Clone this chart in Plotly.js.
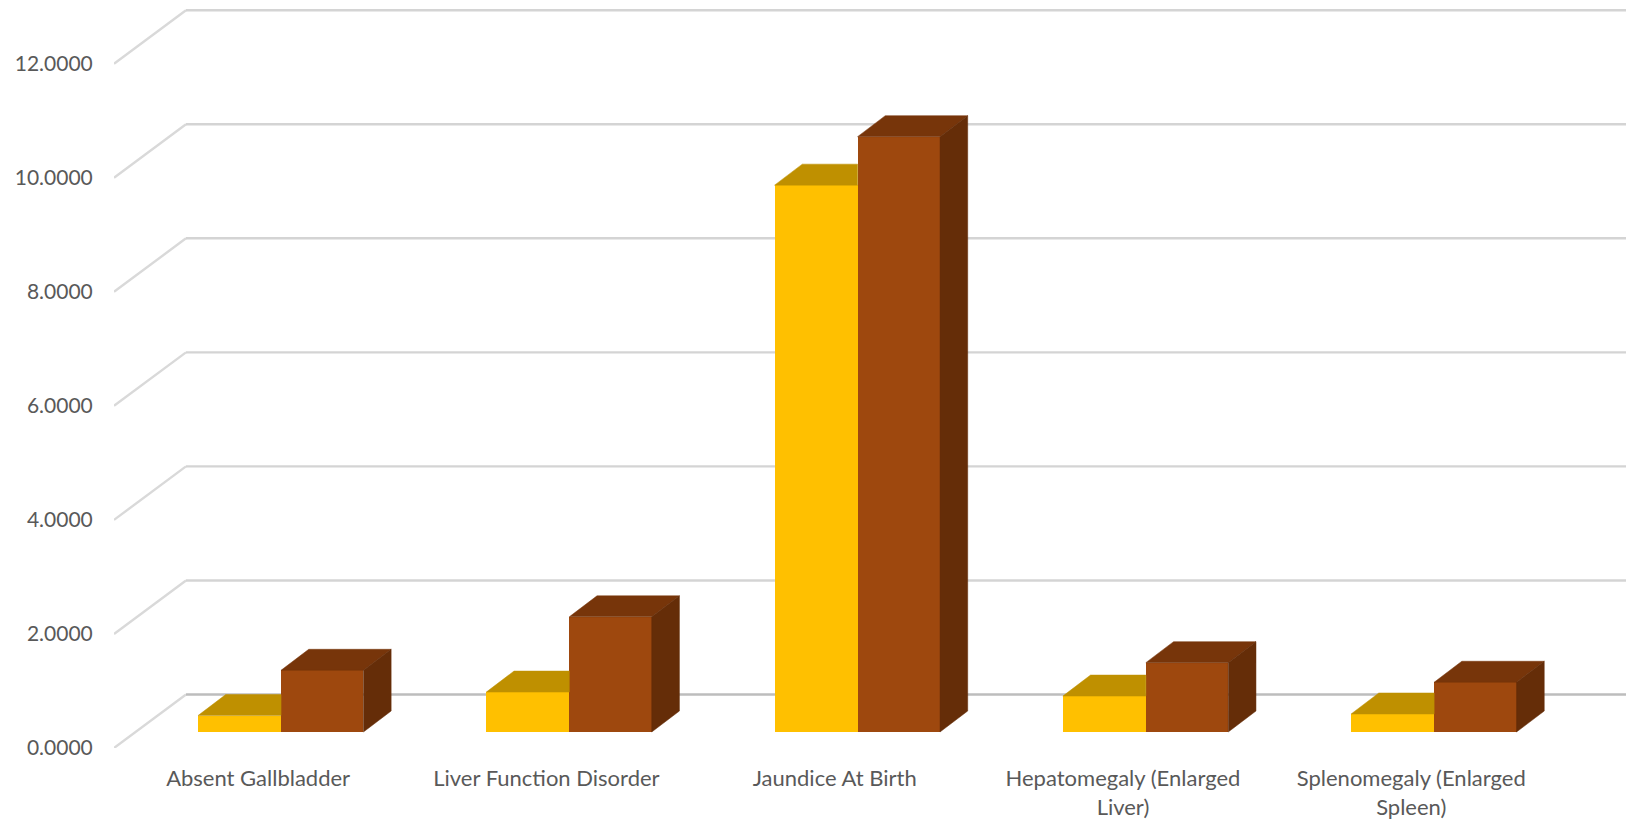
<!DOCTYPE html>
<html>
<head>
<meta charset="utf-8">
<script src="https://cdn.plot.ly/plotly-3.0.1.min.js"></script>
<style>html,body{margin:0;padding:0;background:#fff}#chart{width:1626px;height:819px}</style>
</head>
<body>
<div id="chart"></div>
<script>
// Data
const categories = ["Absent Gallbladder", "Liver Function Disorder", "Jaundice At Birth", "Hepatomegaly (Enlarged Liver)", "Splenomegaly (Enlarged Spleen)"];
const tickLabels = ["Absent Gallbladder", "Liver Function Disorder", "Jaundice At Birth", "Hepatomegaly (Enlarged<br>Liver)", "Splenomegaly (Enlarged<br>Spleen)"];
const seriesA = [0.288, 0.70, 9.59, 0.63, 0.316];
const seriesB = [1.082, 2.02, 10.44, 1.216, 0.872];
const valueTicks = [0, 2, 4, 6, 8, 10, 12];

// Oblique-projection constants, in axis units
const pxX = 288.25, pxY = 57;
const wallDX = 72 / pxX, wallDY = 53.5 / pxY;      // depth of the side wall
const barDX = 27.7 / pxX, barDY = 21 / pxY;        // depth of a bar
const baseY = 16 / pxY;                            // bars stand forward of the wall's foot
const barW = 82.4 / pxX;
const offA = (198 - 258.1) / pxX, offB = offA + 83 / pxX;
const xIdx = categories.map((_, i) => i);
const xMin = -0.5, xMax = 4.745, yMax = 747.7 / pxY;

const poly = (xs, ys, color) => ({
  type: 'scatter', mode: 'lines', x: xs, y: ys, fill: 'toself', fillcolor: color,
  line: {width: 0.5, color: color}, hoverinfo: 'skip', showlegend: false
});

const traces = [];
traces.push({type: 'bar', x: xIdx, y: seriesA, base: baseY, width: 83 / pxX, offset: offA,
  marker: {color: '#FFC000', line: {width: 0}}, name: 'A', showlegend: false});
traces.push({type: 'bar', x: xIdx, y: seriesB, base: baseY, width: barW, offset: offB,
  marker: {color: '#9E480E', line: {width: 0}}, name: 'B', showlegend: false});

xIdx.forEach(i => {
  // top of the yellow bar, cut where the taller brown bar hides it
  const ax0 = i + offA, ax1 = i + offB, at = seriesA[i] + baseY;
  traces.push(poly([ax0, ax0 + barDX, ax1, ax1, ax0], [at, at + barDY, at + barDY, at, at], '#BF9000'));
  // top and side of the brown bar
  const bx0 = i + offB, bx1 = bx0 + barW, bt = seriesB[i] + baseY;
  traces.push(poly([bx0, bx0 + barDX, bx1 + barDX, bx1, bx0], [bt, bt + barDY, bt + barDY, bt, bt], '#77350A'));
  traces.push(poly([bx1, bx1 + barDX, bx1 + barDX, bx1, bx1], [bt, bt + barDY, baseY + barDY, baseY, bt], '#652D08'));
});

const shapes = [];
valueTicks.forEach(v => {
  const col = v === 0 ? '#BDBDBD' : '#D4D4D4';
  shapes.push({type: 'line', layer: 'below', xref: 'x', yref: 'y', x0: xMin, y0: v, x1: xMin + wallDX, y1: v + wallDY,
    line: {color: '#D9D9D9', width: 2.4}});
  shapes.push({type: 'line', layer: 'below', xref: 'x', yref: 'y', x0: xMin + wallDX, y0: v + wallDY, x1: xMax, y1: v + wallDY,
    line: {color: col, width: 2.4}});
});

const fontFamily = 'Lato, "Open Sans", sans-serif';
const layout = {
  width: 1626, height: 819,
  margin: {l: 114, r: 0, t: 0, b: 71.3, pad: 0},
  paper_bgcolor: '#fff', plot_bgcolor: '#fff',
  showlegend: false, bargap: 0, shapes: shapes,
  xaxis: {range: [xMin, xMax], tickmode: 'array', tickvals: xIdx, ticktext: tickLabels,
    showgrid: false, zeroline: false, showline: false, ticks: 'outside', ticklen: 11, tickcolor: 'rgba(0,0,0,0)',
    tickangle: 0, tickfont: {family: fontFamily, size: 22, color: '#595959'}, automargin: false},
  yaxis: {range: [0, yMax], tickmode: 'array', tickvals: valueTicks, tickformat: '.4f',
    showgrid: false, zeroline: false, showline: false, ticks: 'outside', ticklen: 16, tickcolor: 'rgba(0,0,0,0)',
    tickfont: {family: fontFamily, size: 21, color: '#595959'}, automargin: false}
};
Plotly.newPlot('chart', traces, layout, {displayModeBar: false, staticPlot: true});
</script>
</body>
</html>
